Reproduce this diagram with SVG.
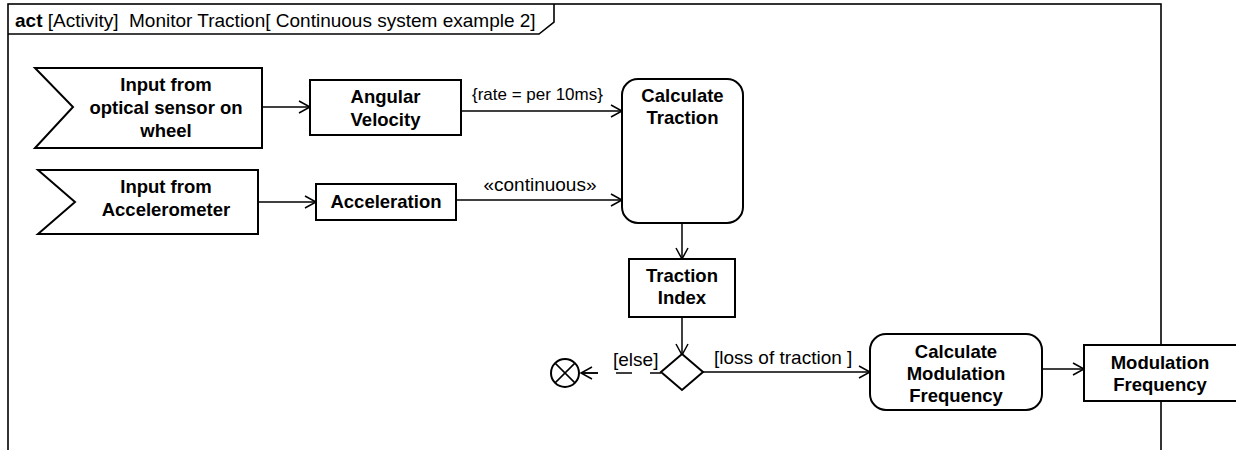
<svg xmlns="http://www.w3.org/2000/svg" width="1236" height="450" viewBox="0 0 1236 450">
<style>
.box{fill:#fff;stroke:#000;stroke-width:2}
.frame{fill:none;stroke:#000;stroke-width:1.6}
.edge{fill:none;stroke:#000;stroke-width:1.5}
.t{font-family:"Liberation Sans",Arial,sans-serif;font-size:18.5px;font-weight:bold;text-anchor:middle;fill:#000}
.lbl{font-family:"Liberation Sans",Arial,sans-serif;font-size:19px;fill:#000}
.lbl.small{font-size:17px}
.hdr{font-family:"Liberation Sans",Arial,sans-serif;font-size:19px;fill:#000}
</style>
<defs>
<marker id="arr" markerUnits="userSpaceOnUse" markerWidth="14" markerHeight="16" refX="12" refY="7" orient="auto">
<path d="M1,1 L12,7 L1,13" fill="none" stroke="#000" stroke-width="1.5"/>
</marker>
</defs>
<rect width="1236" height="450" fill="#fff"/>
<g id="frame">
<rect class="frame" x="8" y="4" width="1153" height="470"/>
<path class="frame" d="M8,34 H539 L554,22 V4"/>
<text class="hdr" x="15" y="27"><tspan font-weight="bold">act</tspan> [Activity]&#160; Monitor Traction[ Continuous system example 2]</text>
</g>
<g id="connectors">
<path class="edge" d="M262,107 H310" marker-end="url(#arr)"/>
<path class="edge" d="M258,202 H316" marker-end="url(#arr)"/>
<path class="edge" d="M461,111 H622" marker-end="url(#arr)"/>
<path class="edge" d="M456,200 H622" marker-end="url(#arr)"/>
<path class="edge" d="M682,223 V259" marker-end="url(#arr)"/>
<path class="edge" d="M682,317 V355" marker-end="url(#arr)"/>
<path class="edge" d="M703,372 H870" marker-end="url(#arr)"/>
<path class="edge" d="M1042,369 H1084" marker-end="url(#arr)"/>
<path class="edge" d="M661,373 H581" stroke-dasharray="11 18 16 18 16"/>
<path class="edge" d="M598,373 H581" marker-end="url(#arr)"/>
<text class="lbl small" x="472" y="100">{rate = per 10ms}</text>
<text class="lbl" x="540" y="191" text-anchor="middle">«continuous»</text>
<text class="lbl" x="613" y="366">[else]</text>
<text class="lbl" x="714" y="364">[loss of traction ]</text>
</g>
<g id="input-optical">
<polygon class="box" points="35,68 262,68 262,148 35,148 73,107"/>
<text class="t" x="166" y="91">Input from</text>
<text class="t" x="166" y="114">optical sensor on</text>
<text class="t" x="166" y="137">wheel</text>
</g>
<g id="input-accelerometer">
<polygon class="box" points="38,170 258,170 258,234 38,234 75,202"/>
<text class="t" x="166" y="193">Input from</text>
<text class="t" x="166" y="216">Accelerometer</text>
</g>
<g id="angular-velocity">
<rect class="box" x="310" y="80" width="151" height="55"/>
<text class="t" x="385.5" y="103">Angular</text>
<text class="t" x="385.5" y="126">Velocity</text>
</g>
<g id="acceleration">
<rect class="box" x="316" y="184" width="140" height="36"/>
<text class="t" x="386" y="208">Acceleration</text>
</g>
<g id="calculate-traction">
<rect class="box" x="622" y="79" width="121" height="144" rx="16"/>
<text class="t" x="682.5" y="102">Calculate</text>
<text class="t" x="682.5" y="124">Traction</text>
</g>
<g id="traction-index">
<rect class="box" x="629" y="259" width="106" height="58"/>
<text class="t" x="682" y="282">Traction</text>
<text class="t" x="682" y="304">Index</text>
</g>
<g id="decision">
<polygon class="box" points="682,354 703,372 682,390 661,372"/>
</g>
<g id="flow-final">
<circle class="box" cx="565" cy="373" r="14"/>
<path class="edge" d="M555.1,363.1 L574.9,382.9 M574.9,363.1 L555.1,382.9" stroke-width="2"/>
</g>
<g id="calculate-modulation-frequency">
<rect class="box" x="870" y="334" width="172" height="76" rx="16"/>
<text class="t" x="956" y="358">Calculate</text>
<text class="t" x="956" y="380">Modulation</text>
<text class="t" x="956" y="402">Frequency</text>
</g>
<g id="modulation-frequency">
<rect class="box" x="1084" y="345" width="154" height="56"/>
<text class="t" x="1160" y="369">Modulation</text>
<text class="t" x="1160" y="391">Frequency</text>
</g>
</svg>
